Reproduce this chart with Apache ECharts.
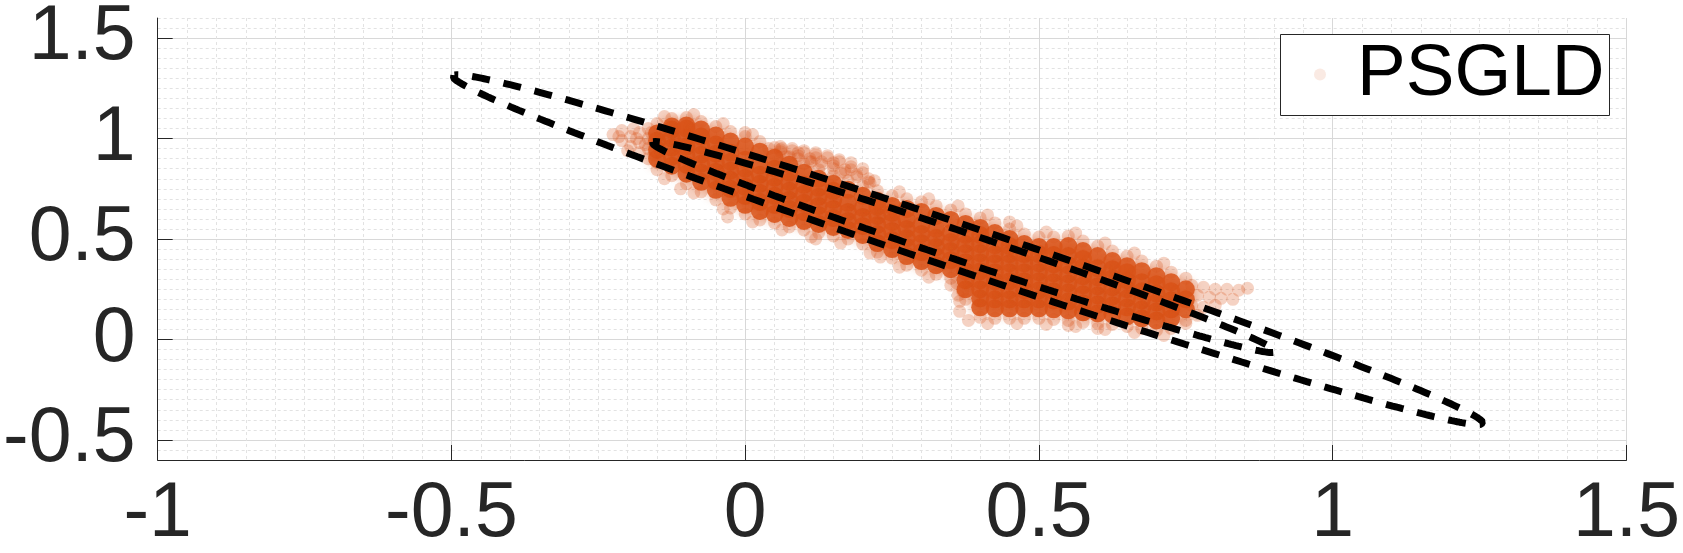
<!DOCTYPE html>
<html><head><meta charset="utf-8">
<script src="https://cdn.jsdelivr.net/npm/echarts@6/dist/echarts.min.js"></script>
<style>html,body{margin:0;padding:0;background:#fff}#c{width:1683px;height:553px}</style>
</head><body><div id="c"></div>
<script>
// ---- tick values / labels ----
const xTicks = [-1, -0.5, 0, 0.5, 1, 1.5];
const xTickLabels = ['-1', '-0.5', '0', '0.5', '1', '1.5'];
const yTicks = [-0.5, 0, 0.5, 1, 1.5];
const yTickLabels = ['-0.5', '0', '0.5', '1', '1.5'];
const xRange = [-1, 1.5];
const yRange = [-0.6, 1.6];
const seriesName = 'PSGLD';

// ---- dense part of the PSGLD sample cloud: [x, [y values]] read column by column ----
const cloudCoreColumns = [
  [-0.15, [0.90, 0.945, 0.99, 1.025]],
  [-0.125, [0.865, 0.91, 0.955, 1.00, 1.045, 1.06]],
  [-0.10, [0.825, 0.87, 0.915, 0.96, 1.005, 1.05, 1.065]],
  [-0.075, [0.785, 0.83, 0.875, 0.92, 0.965, 1.01, 1.045]],
  [-0.05, [0.745, 0.79, 0.835, 0.88, 0.925, 0.97, 1.015]],
  [-0.025, [0.705, 0.75, 0.795, 0.84, 0.885, 0.93, 0.985]],
  [0.0, [0.67, 0.715, 0.76, 0.805, 0.85, 0.895, 0.96]],
  [0.025, [0.64, 0.685, 0.73, 0.775, 0.82, 0.865, 0.935]],
  [0.05, [0.625, 0.67, 0.715, 0.76, 0.805, 0.85, 0.905]],
  [0.075, [0.605, 0.65, 0.695, 0.74, 0.785, 0.83, 0.87]],
  [0.10, [0.59, 0.635, 0.68, 0.725, 0.77, 0.83]],
  [0.125, [0.575, 0.62, 0.665, 0.71, 0.755, 0.80]],
  [0.15, [0.56, 0.605, 0.65, 0.695, 0.74, 0.775]],
  [0.175, [0.545, 0.59, 0.635, 0.68, 0.745]],
  [0.20, [0.52, 0.565, 0.61, 0.655, 0.715]],
  [0.225, [0.48, 0.525, 0.57, 0.615, 0.66, 0.69]],
  [0.25, [0.45, 0.495, 0.54, 0.585, 0.63, 0.665]],
  [0.275, [0.415, 0.46, 0.505, 0.55, 0.595, 0.65]],
  [0.30, [0.39, 0.435, 0.48, 0.525, 0.57, 0.635]],
  [0.325, [0.37, 0.415, 0.46, 0.505, 0.55, 0.615]],
  [0.35, [0.35, 0.395, 0.44, 0.485, 0.53, 0.595]],
  [0.375, [0.25, 0.295, 0.34, 0.385, 0.43, 0.475, 0.52, 0.575]],
  [0.40, [0.16, 0.205, 0.25, 0.295, 0.34, 0.385, 0.43, 0.475, 0.52, 0.555]],
  [0.425, [0.155, 0.20, 0.245, 0.29, 0.335, 0.38, 0.425, 0.47, 0.53]],
  [0.45, [0.155, 0.20, 0.245, 0.29, 0.335, 0.38, 0.425, 0.465, 0.50]],
  [0.475, [0.155, 0.20, 0.245, 0.29, 0.335, 0.38, 0.425, 0.475]],
  [0.50, [0.155, 0.20, 0.245, 0.29, 0.335, 0.38, 0.425, 0.46]],
  [0.525, [0.15, 0.195, 0.24, 0.285, 0.33, 0.375, 0.42, 0.46]],
  [0.55, [0.145, 0.19, 0.235, 0.28, 0.325, 0.37, 0.415, 0.465]],
  [0.575, [0.135, 0.18, 0.225, 0.27, 0.315, 0.36, 0.40, 0.44]],
  [0.60, [0.13, 0.175, 0.22, 0.265, 0.31, 0.355, 0.415]],
  [0.625, [0.125, 0.17, 0.215, 0.26, 0.305, 0.35, 0.39]],
  [0.65, [0.115, 0.16, 0.205, 0.25, 0.295, 0.335, 0.365]],
  [0.675, [0.105, 0.15, 0.195, 0.24, 0.285, 0.34]],
  [0.70, [0.095, 0.14, 0.185, 0.23, 0.275, 0.315]],
  [0.725, [0.105, 0.15, 0.195, 0.24, 0.285]],
  [0.75, [0.15, 0.20, 0.25]]
];

// ---- sparse (faded) samples around the rim of the cloud ----
const cloudHalo = [
  [-0.15,1.075],[-0.125,1.10],[-0.10,1.105],[-0.075,1.085],[-0.05,1.06],[-0.025,1.035],[0.0,1.01],[0.025,0.985],
  [0.05,0.955],[0.075,0.91],[0.10,0.875],[0.125,0.845],[0.15,0.815],[0.175,0.79],[0.20,0.765],[0.225,0.74],
  [0.25,0.715],[0.275,0.70],[0.30,0.685],[0.325,0.665],[0.35,0.645],[0.375,0.625],[0.40,0.605],[0.425,0.58],
  [0.45,0.55],[0.475,0.525],[0.50,0.51],[0.525,0.51],[0.55,0.515],[0.575,0.49],[0.60,0.465],[0.625,0.44],
  [0.65,0.415],[0.675,0.39],[0.70,0.365],[0.725,0.335],[0.75,0.305],
  [-0.1375,1.11],[-0.0875,1.12],[-0.0375,1.075],[0.0125,1.02],[0.0625,0.95],[0.1125,0.885],[0.1625,0.83],
  [0.2125,0.78],[0.2625,0.735],[0.3125,0.70],[0.3625,0.665],[0.4125,0.62],[0.4625,0.565],[0.5125,0.535],
  [0.5625,0.53],[0.6125,0.48],[0.6625,0.43],[0.7125,0.38],
  [-0.15,0.845],[-0.125,0.815],[-0.10,0.775],[-0.075,0.735],[-0.05,0.695],[-0.025,0.655],[0.0,0.625],[0.025,0.595],
  [0.05,0.58],[0.075,0.56],[0.10,0.545],[0.125,0.53],[0.15,0.515],[0.175,0.50],[0.20,0.475],[0.225,0.435],
  [0.25,0.405],[0.275,0.37],[0.30,0.345],[0.325,0.325],[0.35,0.305],[0.375,0.20],[0.40,0.11],[0.425,0.105],
  [0.45,0.105],[0.475,0.105],[0.50,0.105],[0.525,0.10],[0.55,0.095],[0.575,0.085],[0.60,0.08],[0.625,0.075],
  [0.65,0.065],[0.675,0.055],[0.70,0.045],[0.725,0.055],[0.75,0.095],
  [-0.1375,0.80],[-0.0875,0.73],[-0.0375,0.65],[0.0125,0.585],[0.0625,0.545],[0.1125,0.51],[0.1625,0.48],
  [0.2125,0.43],[0.2625,0.36],[0.3125,0.31],[0.3625,0.22],[0.4125,0.08],[0.4625,0.08],[0.5125,0.075],
  [0.5625,0.065],[0.6125,0.05],[0.6625,0.035],[0.7125,0.02],
  [0.365,0.14],[0.365,0.19],[0.37,0.24],[0.36,0.28],
  [-0.225,1.02],[-0.21,0.99],[-0.21,1.04],[-0.195,0.96],[-0.195,1.01],[-0.18,0.93],[-0.18,0.98],[-0.18,1.03],
  [-0.165,0.90],[-0.165,0.95],[-0.165,1.00],[-0.165,1.05],[-0.15,0.88],[-0.19,1.05],[-0.20,0.94],
  [-0.215,1.01],[-0.185,1.00],[-0.17,0.97],[-0.155,0.92],[-0.16,1.03],
  [0.06,0.96],[0.08,0.95],[0.10,0.94],[0.12,0.93],[0.14,0.915],[0.16,0.895],[0.18,0.88],[0.20,0.85],
  [0.09,0.915],[0.11,0.90],[0.13,0.885],[0.15,0.865],[0.17,0.845],[0.19,0.82],[0.21,0.80],
  [0.04,0.95],[0.06,0.945],[0.08,0.94],[0.10,0.93],[0.12,0.92],[0.14,0.905],[0.16,0.885],[0.18,0.86],[0.20,0.83],[0.22,0.79],
  [0.05,0.92],[0.07,0.91],[0.09,0.90],[0.11,0.885],[0.13,0.87],[0.15,0.85],[0.17,0.83],[0.19,0.81],[0.21,0.785],
  [0.06,0.935],[0.09,0.93],[0.12,0.905],[0.15,0.88],[0.18,0.845],
  [0.76,0.27],[0.78,0.26],[0.80,0.25],[0.82,0.25],[0.84,0.245],[0.855,0.255],[0.77,0.22],[0.79,0.21],
  [0.81,0.205],[0.83,0.20],[0.76,0.17],[0.78,0.16],[0.80,0.17],[0.77,0.12],[0.75,0.08],
  [-0.11,0.75],[-0.03,0.61],[0.12,0.50],[0.23,0.41],[0.35,0.27],[0.38,0.095],[0.55,0.07],[0.60,0.055],
  [0.0,1.03],[0.45,0.585]
];

// ---- dashed reference ellipses ----
const ellipseCenters = [[0.379, 0.447], [0.372, 0.460]];
const ellipseSemiMajor = [1.233, 0.745];
const ellipseSemiMinor = [0.0843, 0.0536];
const ellipseAngleDeg = [-44.8, -44.7];

const cloudCore = [];
cloudCoreColumns.forEach(function (c) { c[1].forEach(function (y) { cloudCore.push([c[0], y]); }); });

function ellipsePath(i) {
  const pts = [];
  const th = ellipseAngleDeg[i] * Math.PI / 180;
  const ct = Math.cos(th), st = Math.sin(th);
  const a = ellipseSemiMajor[i], b = ellipseSemiMinor[i];
  const cx = ellipseCenters[i][0], cy = ellipseCenters[i][1];
  for (let k = 0; k <= 400; k++) {
    const t = Math.PI + 2 * Math.PI * k / 400;
    const p = a * Math.cos(t), q = b * Math.sin(t);
    pts.push([cx + p * ct - q * st, cy + p * st + q * ct]);
  }
  return pts;
}

const FONT = "'Liberation Sans', Arial, Helvetica, sans-serif";
const AXIS = '#262626';
const ORANGE = '#D95319';

const chart = echarts.init(document.getElementById('c'), null, {renderer: 'canvas'});
chart.setOption({
  animation: false,
  backgroundColor: '#ffffff',
  grid: {left: 155, top: 13, width: 1474, height: 455, containLabel: false},
  graphic: [{
    type: 'rect', z: 100, silent: true,
    shape: {x: 1280.5, y: 34.5, width: 329, height: 81},
    style: {fill: '#ffffff', stroke: AXIS, lineWidth: 1}
  }],
  legend: {
    show: true, z: 101,
    data: [{name: seriesName, icon: 'circle'}],
    left: 1314, top: 32,
    orient: 'vertical',
    padding: 0,
    itemWidth: 64, itemHeight: 12,
    itemStyle: {color: ORANGE, opacity: 0.12, borderWidth: 0, shadowBlur: 0},
    textStyle: {fontSize: 73, color: '#000', fontFamily: FONT, lineHeight: 72, padding: [0, 0, 13, 0]},
    selectedMode: false
  },
  xAxis: {
    type: 'value', min: xRange[0], max: xRange[1], interval: 0.5,
    axisLine: {show: true, onZero: false, lineStyle: {color: AXIS, width: 1}},
    axisTick: {show: true, inside: true, length: 15, lineStyle: {color: AXIS, width: 1}},
    axisLabel: {
      show: true, margin: 16, fontSize: 77, color: AXIS, fontFamily: FONT,
      showMinLabel: true, showMaxLabel: true,
      formatter: function (v) { const i = xTicks.findIndex(t => Math.abs(t - v) < 1e-9); return i >= 0 ? xTickLabels[i] : ''; }
    },
    splitLine: {show: true, lineStyle: {color: '#d8d8d8', width: 1}},
    minorTick: {show: false, splitNumber: 10},
    minorSplitLine: {show: true, lineStyle: {color: '#e2e2e2', width: 1, type: [3, 3]}}
  },
  yAxis: [
    {
      type: 'value', min: yRange[0], max: yRange[1], interval: 0.05, position: 'left',
      axisLine: {show: true, onZero: false, lineStyle: {color: AXIS, width: 1}},
      axisTick: {show: false},
      axisLabel: {show: false},
      splitLine: {show: true, lineStyle: {color: '#e2e2e2', width: 1, type: [3, 3]}}
    },
    {
      type: 'value', min: yRange[0], max: yRange[1], interval: 0.1, position: 'left',
      axisLine: {show: false, onZero: false},
      axisTick: {show: true, inside: true, length: 15, customValues: yTicks, lineStyle: {color: AXIS, width: 1}},
      axisLabel: {
        show: true, margin: 22, fontSize: 77, color: AXIS, fontFamily: FONT, customValues: yTicks,
        padding: [0, 0, 8, 0],
        formatter: function (v) { const i = yTicks.findIndex(t => Math.abs(t - v) < 1e-9); return i >= 0 ? yTickLabels[i] : ''; }
      },
      splitLine: {show: true, lineStyle: {color: '#d8d8d8', width: 1}}
    }
  ],
  series: [
    {
      name: seriesName, type: 'scatter', data: cloudHalo, symbol: 'circle', symbolSize: 13,
      itemStyle: {color: ORANGE, opacity: 0.26}, silent: true, z: 2
    },
    {
      name: seriesName, type: 'scatter', data: cloudCore, symbol: 'circle', symbolSize: 18,
      itemStyle: {color: ORANGE, opacity: 0.85, shadowBlur: 8, shadowColor: 'rgba(217,83,25,0.45)'}, silent: true, z: 3
    },
    {
      name: 'outer', type: 'line', data: ellipsePath(0), showSymbol: false, symbol: 'none',
      lineStyle: {color: '#000', width: 7, type: [18, 14], cap: 'butt'}, silent: true, z: 5
    },
    {
      name: 'inner', type: 'line', data: ellipsePath(1), showSymbol: false, symbol: 'none',
      lineStyle: {color: '#000', width: 7, type: [18, 14], cap: 'butt'}, silent: true, z: 5
    }
  ]
});
</script></body></html>
